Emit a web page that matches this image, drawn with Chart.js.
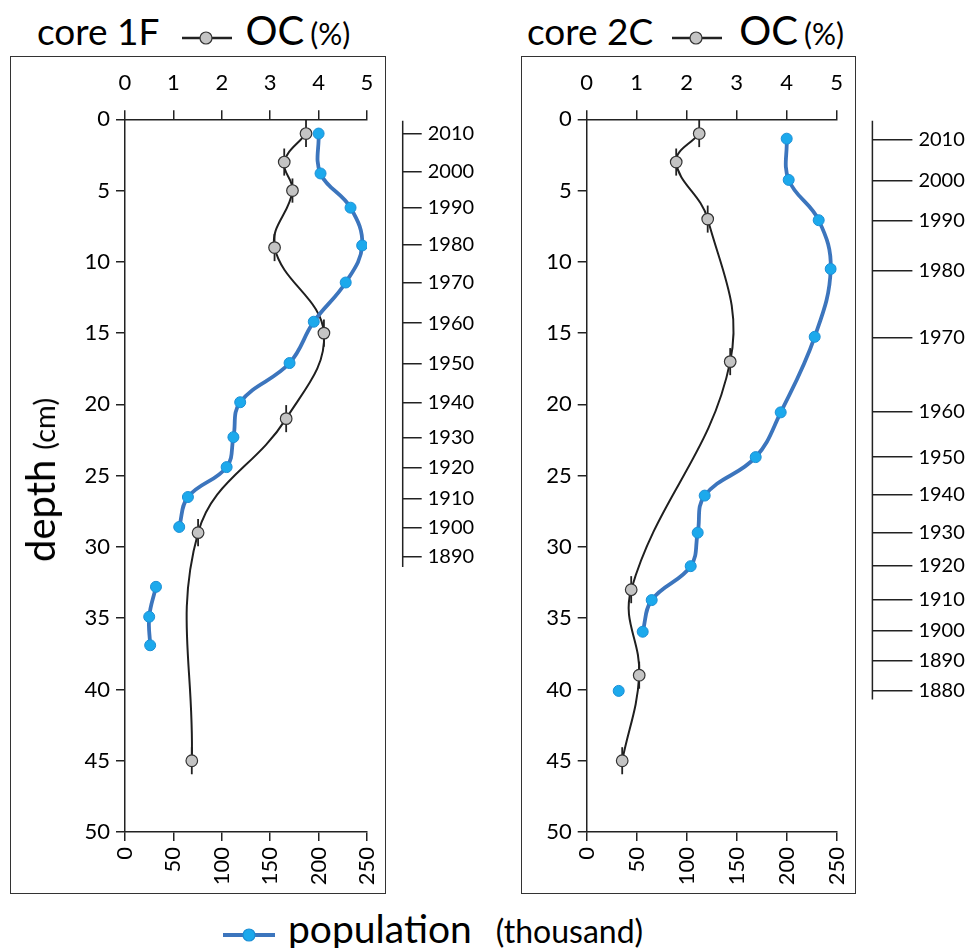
<!DOCTYPE html>
<html>
<head>
<meta charset="utf-8">
<script src="https://cdn.jsdelivr.net/npm/chart.js@4.4.1/dist/chart.umd.min.js"></script>
<style>
  body { margin: 0; background: #fff; width: 971px; height: 948px; position: relative; overflow: hidden; font-family: Lato, sans-serif; color: #000; }
  .abs { position: absolute; white-space: nowrap; line-height: 1; }
  .box { position: absolute; border: 1.5px solid #333; box-sizing: border-box; pointer-events: none; }
  canvas { position: absolute; top: 0; }
  .big { font-size: 37px; }
  .oc { font-size: 40px; }
  .small { font-size: 30px; margin-left: 6px; }
  svg { vertical-align: middle; }
</style>
</head>
<body>

<div class="abs" style="left:37px;top:10px;"><span class="big">core 1F</span><svg width="52" height="20" style="margin:0 12px 6px 22px"><line x1="1" y1="10" x2="51" y2="10" stroke="#222" stroke-width="2.5"/><circle cx="25" cy="10" r="6" fill="#c4c4c4" stroke="#333" stroke-width="1.2"/></svg><span class="oc">OC</span><span class="small">(%)</span></div>
<div class="abs" style="left:527px;top:10px;"><span class="big">core 2C</span><svg width="52" height="20" style="margin:0 16px 6px 18px"><line x1="1" y1="10" x2="51" y2="10" stroke="#222" stroke-width="2.5"/><circle cx="25" cy="10" r="6" fill="#c4c4c4" stroke="#333" stroke-width="1.2"/></svg><span class="oc">OC</span><span class="small">(%)</span></div>

<div class="box" style="left:10px;top:56px;width:376px;height:838px;"></div>
<div class="box" style="left:521px;top:56px;width:335px;height:838px;"></div>

<canvas id="c1" width="485" height="893" style="left:0px"></canvas>
<canvas id="c2" width="486" height="893" style="left:485px"></canvas>

<div class="abs" style="left:40px;top:480px;transform:translate(-50%,-50%) rotate(-90deg);"><span style="font-size:40px">depth</span><span style="font-size:29px;margin-left:10px">(cm)</span></div>

<div class="abs" style="left:222px;top:909px;"><svg width="54" height="20" style="margin:0 12px 8px 0"><line x1="1" y1="10" x2="53" y2="10" stroke="#3c75bd" stroke-width="4"/><circle cx="27" cy="10" r="6" fill="#1ca9ec" stroke="#1b8fd6" stroke-width="1.2"/></svg><span style="font-size:39px">population</span><span style="font-size:32px;margin-left:24px">(thousand)</span></div>

<script>
// core 1F
const ocDepth1 = [1, 3, 5, 9, 15, 21, 29, 45];
const oc1 = [3.74, 3.29, 3.46, 3.09, 4.11, 3.33, 1.51, 1.38];
const ocErr1 = [0.95, 0.95, 0.85, 0.95, 0.95, 0.95, 0.95, 0.95];
const popDepth1 = [1.0, 3.8, 6.2, 8.85, 11.45, 14.2, 17.1, 19.85, 22.3, 24.4, 26.5, 28.6, null, 32.8, 34.9, 36.9];
const pop1 = [200, 202, 233, 245, 228, 195, 170, 119, 112, 105, 65, 56, null, 32, 25, 26];
const yearDepth1 = [1.0, 3.7, 6.2, 8.8, 11.45, 14.3, 17.15, 19.9, 22.35, 24.45, 26.6, 28.65, 30.7];
const years1 = ['2010', '2000', '1990', '1980', '1970', '1960', '1950', '1940', '1930', '1920', '1910', '1900', '1890'];

// core 2C
const ocDepth2 = [1, 3, 7, 17, 33, 39, 45];
const oc2 = [2.25, 1.79, 2.42, 2.87, 0.89, 1.05, 0.71];
const ocErr2 = [0.95, 0.95, 0.95, 0.95, 0.95, 0.95, 0.95];
const popDepth2 = [1.36, 4.25, 7.08, 10.5, 15.26, 20.56, 23.7, 26.4, 29.0, 31.35, 33.73, 35.95, null, 40.1];
const pop2 = [200, 202, 232, 244, 228, 194, 169, 118, 111, 104, 65, 56, null, 32];
const yearDepth2 = [1.4, 4.3, 7.1, 10.6, 15.3, 20.5, 23.7, 26.35, 29.0, 31.3, 33.7, 35.9, 38.0, 40.1];
const years2 = ['2010', '2000', '1990', '1980', '1970', '1960', '1950', '1940', '1930', '1920', '1910', '1900', '1890', '1880'];

const popTicks = [0, 50, 100, 150, 200, 250];
const ocTicks = [0, 1, 2, 3, 4, 5];

const FONT = 'Lato';
const INK = '#222';

// split a series at null entries so gaps stay open
function segments(depths, vals) {
  const out = [];
  let cur = [];
  depths.forEach((d, i) => {
    if (d === null || vals[i] === null) {
      if (cur.length) out.push(cur);
      cur = [];
    } else {
      cur.push({ x: vals[i], y: d });
    }
  });
  if (cur.length) out.push(cur);
  return out;
}

const errorBars = {
  id: 'errorBars',
  beforeDatasetsDraw(chart) {
    const ctx = chart.ctx;
    chart.data.datasets.forEach(ds => {
      if (!ds.err) return;
      const xs = chart.scales[ds.xAxisID], ys = chart.scales[ds.yAxisID];
      ctx.save();
      ctx.strokeStyle = INK;
      ctx.lineWidth = 1.8;
      ds.data.forEach((p, j) => {
        const px = xs.getPixelForValue(p.x);
        ctx.beginPath();
        ctx.moveTo(px, ys.getPixelForValue(p.y - ds.err[j]));
        ctx.lineTo(px, ys.getPixelForValue(p.y + ds.err[j]));
        ctx.stroke();
      });
      ctx.restore();
    });
  }
};

const yearLine = {
  id: 'yearLine',
  afterDraw(chart, args, opts) {
    const s = chart.scales.yr;
    const ctx = chart.ctx;
    ctx.save();
    ctx.strokeStyle = INK;
    ctx.lineWidth = 1.5;
    ctx.beginPath();
    ctx.moveTo(s.left, s.getPixelForValue(opts.from));
    ctx.lineTo(s.left, s.getPixelForValue(opts.to));
    ctx.stroke();
    ctx.restore();
  }
};

function makePanel(id, cfg) {
  const datasets = [];
  segments(cfg.popDepth, cfg.pop).forEach(seg => {
    datasets.push({
      data: seg, xAxisID: 'x', yAxisID: 'y', showLine: true, tension: 0.4, order: 0,
      borderColor: '#3c75bd', borderWidth: 3.8,
      pointRadius: 5.5, pointBackgroundColor: '#1ca9ec', pointBorderColor: '#1b8fd6', pointBorderWidth: 1
    });
  });
  datasets.push({
    data: cfg.ocDepth.map((d, i) => ({ x: cfg.oc[i], y: d })), err: cfg.ocErr,
    xAxisID: 'x2', yAxisID: 'y', showLine: true, tension: 0.4, order: 1,
    borderColor: '#1f1f1f', borderWidth: 2,
    pointRadius: 5.8, pointBackgroundColor: '#c4c4c4', pointBorderColor: '#333', pointBorderWidth: 1.2
  });

  const tickFont = { family: FONT, size: 22 };
  const axisGrid = { drawOnChartArea: false, tickLength: 9, color: INK, lineWidth: 1.5 };
  const axisBorder = { color: INK, width: 1.5 };

  new Chart(document.getElementById(id), {
    type: 'scatter',
    data: { datasets },
    plugins: [errorBars, yearLine],
    options: {
      responsive: false,
      animation: false,
      events: [],
      layout: { padding: 0 },
      plugins: {
        legend: { display: false },
        tooltip: { enabled: false },
        yearLine: { from: 0.1, to: cfg.yearEnd }
      },
      scales: {
        x: {
          type: 'linear', position: 'bottom', min: 0, max: 250,
          afterBuildTicks: s => { s.ticks = popTicks.map(v => ({ value: v })); },
          ticks: { font: tickFont, color: '#000', minRotation: 90, maxRotation: 90, padding: 6 },
          grid: axisGrid, border: axisBorder,
          afterFit: s => { s.height = 893 - cfg.bottom; }
        },
        x2: {
          type: 'linear', position: 'top', min: 0, max: 5,
          afterBuildTicks: s => { s.ticks = ocTicks.map(v => ({ value: v })); },
          ticks: { font: tickFont, color: '#000', maxRotation: 0, padding: 14 },
          grid: axisGrid, border: axisBorder,
          afterFit: s => { s.height = cfg.top; }
        },
        y: {
          type: 'linear', position: 'left', reverse: true, min: 0, max: 50,
          ticks: { stepSize: 5, font: tickFont, color: '#000', padding: 6 },
          grid: axisGrid, border: axisBorder,
          afterFit: s => { s.width = cfg.left; }
        },
        gap: {
          type: 'linear', position: 'right', weight: 0,
          ticks: { display: false }, grid: { display: false }, border: { display: false },
          afterFit: s => { s.width = 35.7; }
        },
        yr: {
          type: 'linear', position: 'right', weight: 1, reverse: true, min: 0, max: 50,
          afterBuildTicks: s => { s.ticks = cfg.yearDepth.map(v => ({ value: v })); },
          ticks: { font: { family: FONT, size: 20 }, color: '#000', autoSkip: false, padding: 6,
                   callback: (v, i) => cfg.years[i] },
          grid: { drawOnChartArea: false, tickLength: cfg.yearTick, color: INK, lineWidth: 1.5 },
          border: { display: false },
          afterFit: s => { s.width = cfg.yearWidth; }
        }
      }
    }
  });
}

makePanel('c1', {
  ocDepth: ocDepth1, oc: oc1, ocErr: ocErr1, popDepth: popDepth1, pop: pop1,
  yearDepth: yearDepth1, years: years1, yearEnd: 31.4, yearTick: 19,
  left: 125, top: 119.3, bottom: 832, yearWidth: 485 - 367 - 35.7
});
makePanel('c2', {
  ocDepth: ocDepth2, oc: oc2, ocErr: ocErr2, popDepth: popDepth2, pop: pop2,
  yearDepth: yearDepth2, years: years2, yearEnd: 40.7, yearTick: 40,
  left: 101.7, top: 119.3, bottom: 832, yearWidth: 486 - 351.7 - 35.7
});
</script>
</body>
</html>
